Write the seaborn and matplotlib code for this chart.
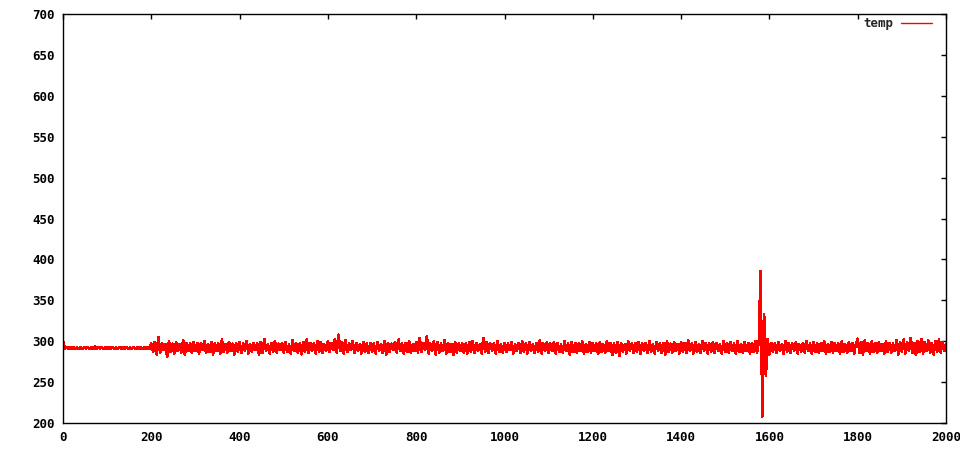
import numpy as np
import pandas as pd
import matplotlib
matplotlib.use("Agg")
import matplotlib.pyplot as plt
import seaborn as sns

step = 4
temp_start = [301, 290.5, 292.5, 290.5, 293, 290.5, 292.5, 291, 292.5, 290.5,
              292.5, 290.5, 293, 291, 292.5, 290.5, 292.5, 290.5, 293.5, 290.5,
              292.5, 291, 292.5, 290.5, 292.5, 290.5, 293, 290.5, 292.5, 291,
              292.5, 290.5, 292.5, 290.5, 293, 290.5, 292.5, 291, 292.5, 290.5,
              293, 290.5, 292.5, 290.5, 292.5, 291, 292.5, 290.5, 292.5, 290.5]
temp_rest = [
    297, 287, 299, 284, 305, 286, 298, 289, 296, 281, 300, 287, 297, 285, 299, 288, 296, 286, 301, 284, 298, 288, 297, 286, 299,
    288, 298, 285, 297, 289, 300, 286, 296, 287, 299, 284, 298, 288, 297, 285, 302, 287, 296, 286, 299, 288, 297, 284, 298, 287,
    299, 286, 297, 288, 300, 285, 296, 287, 298, 289, 297, 284, 299, 286, 303, 288, 296, 285, 298, 287, 300, 286, 297, 289, 298,
    286, 299, 287, 296, 285, 301, 288, 298, 286, 297, 284, 299, 287, 302, 286, 298, 288, 297, 285, 300, 287, 299, 286, 296, 288,
    300, 287, 298, 289, 303, 286, 308, 288, 299, 285, 301, 287, 297, 289, 300, 286, 298, 288, 296, 285, 299, 287, 297, 286, 298,
    287, 297, 285, 299, 288, 296, 286, 300, 284, 298, 287, 297, 289, 299, 286, 302, 288, 297, 285, 298, 287, 300, 286, 296, 288,
    299, 286, 304, 287, 298, 289, 306, 285, 297, 288, 300, 284, 299, 286, 297, 288, 301, 285, 298, 287, 296, 283, 299, 286, 297,
    288, 298, 286, 297, 285, 299, 287, 300, 286, 298, 288, 296, 285, 304, 287, 299, 286, 297, 288, 298, 285, 300, 287, 296, 286,
    298, 287, 297, 289, 299, 285, 296, 288, 298, 286, 300, 287, 297, 285, 299, 288, 296, 286, 298, 287, 301, 285, 297, 288, 299,
    286, 297, 288, 299, 285, 298, 287, 296, 286, 300, 288, 297, 284, 299, 287, 298, 286, 297, 288, 300, 285, 296, 287, 299, 286,
    298, 288, 297, 285, 299, 287, 296, 286, 300, 288, 298, 283, 297, 286, 299, 282, 298, 287, 296, 285, 300, 288, 297, 286, 298,
    287, 299, 285, 297, 288, 298, 286, 300, 287, 296, 285, 299, 288, 297, 286, 298, 284, 300, 287, 297, 286, 299, 288, 296, 285,
    299, 287, 298, 286, 301, 288, 297, 285, 299, 287, 296, 286, 300, 288, 298, 285, 297, 287, 299, 286, 298, 288, 296, 285, 300,
    287, 298, 286, 299, 288, 297, 285, 300, 287, 296, 286, 299, 288, 298, 285, 297, 287, 300, 286, 299, 386, 208, 333, 258, 303,
    284, 298, 287, 297, 286, 299, 288, 296, 285, 300, 287, 298, 286, 297, 288, 299, 285, 296, 287, 298, 286, 300, 288, 297, 285,
    299, 287, 298, 286, 297, 288, 300, 285, 296, 287, 299, 286, 298, 288, 297, 285, 300, 287, 296, 286, 299, 288, 298, 285, 297,
    303, 286, 299, 284, 301, 288, 297, 285, 300, 287, 298, 286, 299, 288, 296, 285, 300, 287, 298, 286, 297, 288, 301, 284, 299,
    287, 302, 285, 299, 288, 304, 286, 298, 283, 300, 287, 303, 285, 299, 288, 301, 286, 298, 284, 300, 287, 302, 286, 299, 288,
    296]
temp = temp_start + temp_rest
x_ticks = [0, 200, 400, 600, 800, 1000, 1200, 1400, 1600, 1800, 2000]
y_ticks = [200, 250, 300, 350, 400, 450, 500, 550, 600, 650, 700]

df = pd.DataFrame({"t": np.arange(len(temp)) * step, "temp": temp})

sns.set_theme(style="white")
plt.rcParams["font.family"] = ["DejaVu Sans Mono"]
plt.rcParams["font.weight"] = "bold"
plt.rcParams["path.simplify"] = False

fig = plt.figure(figsize=(9.6, 4.5), dpi=100)
ax = fig.add_axes([63 / 960, 27 / 450, 883 / 960, 409 / 450])
sns.lineplot(data=df, x="t", y="temp", ax=ax, color="#ff0000", linewidth=1.2,
             label="temp", antialiased=False)

ax.set_xlim(0, 2000)
ax.set_ylim(200, 700)
ax.set_xticks(x_ticks)
ax.set_yticks(y_ticks)
ax.set_xlabel("")
ax.set_ylabel("")
ax.tick_params(direction="in", length=3.5, width=1, top=True, right=True,
               labelsize=9, colors="black", pad=6)
for lab in ax.get_xticklabels() + ax.get_yticklabels():
    lab.set_fontweight("bold")
for s in ax.spines.values():
    s.set_color("black")
    s.set_linewidth(1)
ax.grid(False)

leg = ax.legend(loc="upper right", frameon=False, markerfirst=False,
                handlelength=2.5, handletextpad=0.6, fontsize=9,
                borderaxespad=0, borderpad=0,
                bbox_to_anchor=((932 - 63) / 883, (423 - 17) / 409))
for t in leg.get_texts():
    t.set_fontweight("bold")
for line in leg.get_lines():
    line.set_linewidth(1.0)

fig.savefig("out.png", dpi=100)
